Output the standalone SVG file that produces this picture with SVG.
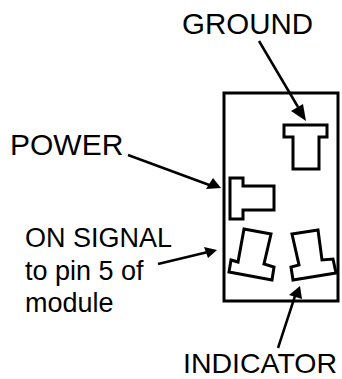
<svg xmlns="http://www.w3.org/2000/svg" width="342" height="379" viewBox="0 0 342 379">
<style>
.s{fill:none;stroke:#000;stroke-width:3}
.l{fill:none;stroke:#000;stroke-width:2.5}
.a{fill:#000}
text{font-family:"Liberation Sans",Arial,sans-serif;fill:#000}
.b{font-size:29.5px}
.m{font-size:27px}
.p{font-size:30px}
.i{font-size:28.5px}
</style>
<rect width="342" height="379" fill="#fff"/>
<g id="module"><rect class="s" x="224" y="93" width="114" height="208"/></g>
<g id="pin-ground"><path class="s" d="M284 125H327V137H319V169H293V137H284Z"/></g>
<g id="pin-power"><path class="s" d="M230 178H243V186H274V210H243V219H230Z"/></g>
<g id="pin-on"><path class="s" d="M244 229L271 234L264 264L274 267L272 280L229 272L231 260L238 262Z"/></g>
<g id="pin-indicator"><path class="s" d="M292 234L318 230L322 260L333 259L336 273L293 280L291 267L299 265Z"/></g>
<g id="connectors">
<path class="l" d="M259 41L298 107"/><path class="a" d="M306 121L291 111L303 104Z"/>
<path class="l" d="M128 155L212 186"/><path class="a" d="M221 188L206 189L213 178Z"/>
<path class="l" d="M158 264L208 252"/><path class="a" d="M217 250L204 247L208 258Z"/>
<path class="l" d="M278 348L295 296"/><path class="a" d="M300 286L289 295L302 299Z"/>
</g>
<g id="label-ground"><text class="b" x="182" y="34">GROUND</text></g>
<g id="label-power"><text class="p" x="10" y="155">POWER</text></g>
<g id="label-on"><text class="m" x="25" y="247">ON SIGNAL</text><text class="m" x="25" y="279.5">to pin 5 of</text><text class="m" x="25" y="312">module</text></g>
<g id="label-indicator"><text class="i" x="183" y="373">INDICATOR</text></g>
</svg>
